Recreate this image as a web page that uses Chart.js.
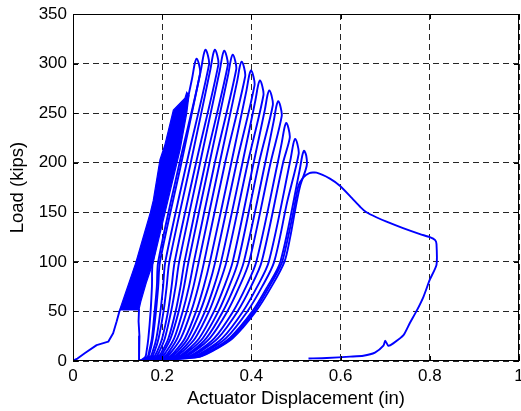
<!DOCTYPE html>
<html>
<head>
<meta charset="utf-8">
<script src="https://cdn.jsdelivr.net/npm/chart.js@4"></script>
<style>
html,body{margin:0;padding:0;background:#fff;}
canvas{display:block;}
</style>
</head>
<body>
<canvas id="c" width="521" height="411"></canvas>
<script>
// ---- data (x = displacement in, y = load kips) ----
const xTicks = [0, 0.2, 0.4, 0.6, 0.8, 1];
const yTicks = [0, 50, 100, 150, 200, 250, 300, 350];

const initialPath = [[0,0.5],[0.01,2.5],[0.027,8],[0.053,16],[0.068,18],[0.079,19.5],[0.09,28],[0.098,40],[0.104,50],[0.106,52],[0.148,52],[0.147,40],[0.149,25],[0.148,0]];

const densePoly = [[0.105,52],[0.148,52],[0.152,60],[0.165,80],[0.18,100],[0.24,213],[0.255,250],[0.26,268],[0.255,271],[0.251,265],[0.225,253],[0.206,218],[0.195,203],[0.18,162],[0.173,149],[0.14,98],[0.105,52]];

const loop1 = [[0.15,0],[0.162,4],[0.165,10],[0.169,23],[0.174,50],[0.177,75],[0.179,100],[0.227,200],[0.267,285],[0.273,300],[0.277,305],[0.282,300],[0.285,290],[0.239,200],[0.191,100],[0.188,75],[0.183,50],[0.177,23],[0.171,10],[0.167,4],[0.15,0]];
const loop2 = [[0.15,0],[0.168,4],[0.173,10],[0.179,23],[0.186,50],[0.191,75],[0.195,100],[0.243,200],[0.287,294],[0.293,309],[0.297,314],[0.302,309],[0.305,299],[0.255,200],[0.207,100],[0.202,75],[0.196,50],[0.187,23],[0.179,10],[0.173,4],[0.15,0]];
const loop3 = [[0.15,0],[0.176,4],[0.183,10],[0.192,23],[0.203,50],[0.21,75],[0.216,100],[0.264,200],[0.308,294],[0.314,309],[0.318,314],[0.323,309],[0.326,299],[0.276,200],[0.228,100],[0.221,75],[0.213,50],[0.2,23],[0.189,10],[0.181,4],[0.15,0]];
const loop4 = [[0.15,0],[0.185,4],[0.194,10],[0.206,23],[0.22,50],[0.23,75],[0.238,100],[0.285,200],[0.329,293],[0.335,308],[0.339,313],[0.344,308],[0.347,298],[0.297,200],[0.25,100],[0.241,75],[0.23,50],[0.214,23],[0.2,10],[0.19,4],[0.15,0]];
const loop5 = [[0.15,0],[0.193,4],[0.204,10],[0.219,23],[0.237,50],[0.249,75],[0.259,100],[0.306,200],[0.348,289],[0.354,304],[0.358,309],[0.363,304],[0.366,294],[0.318,200],[0.271,100],[0.26,75],[0.246,50],[0.227,23],[0.21,10],[0.198,4],[0.15,0]];
const loop6 = [[0.15,0],[0.203,4],[0.216,10],[0.234,23],[0.255,50],[0.27,75],[0.282,100],[0.329,200],[0.368,282],[0.374,297],[0.378,302],[0.383,297],[0.386,287],[0.341,200],[0.294,100],[0.281,75],[0.265,50],[0.242,23],[0.222,10],[0.208,4],[0.15,0]];
const loop7 = [[0.15,0],[0.213,4],[0.229,10],[0.251,23],[0.276,50],[0.293,75],[0.307,100],[0.355,200],[0.389,273],[0.395,288],[0.399,293],[0.404,288],[0.407,278],[0.367,200],[0.319,100],[0.304,75],[0.285,50],[0.258,23],[0.235,10],[0.218,4],[0.15,0]];
const loop8 = [[0.15,0],[0.223,4],[0.241,10],[0.266,23],[0.296,50],[0.316,75],[0.332,100],[0.38,200],[0.409,263],[0.415,278],[0.419,283],[0.424,278],[0.427,268],[0.392,200],[0.344,100],[0.326,75],[0.305,50],[0.274,23],[0.247,10],[0.228,4],[0.15,0]];
const loop9 = [[0.15,0],[0.233,4],[0.254,10],[0.283,23],[0.316,50],[0.339,75],[0.358,100],[0.405,200],[0.43,253],[0.436,268],[0.44,273],[0.445,268],[0.448,258],[0.417,200],[0.37,100],[0.35,75],[0.326,50],[0.291,23],[0.26,10],[0.238,4],[0.15,0]];
const loop10 = [[0.15,0],[0.243,4],[0.267,10],[0.299,23],[0.336,50],[0.362,75],[0.383,100],[0.431,200],[0.45,242],[0.456,257],[0.46,262],[0.465,257],[0.468,247],[0.443,200],[0.395,100],[0.373,75],[0.346,50],[0.307,23],[0.273,10],[0.248,4],[0.15,0]];
const loop11 = [[0.15,0],[0.255,4],[0.281,10],[0.317,23],[0.359,50],[0.388,75],[0.411,100],[0.459,200],[0.468,220],[0.474,235],[0.478,240],[0.483,235],[0.486,225],[0.471,200],[0.423,100],[0.399,75],[0.369,50],[0.325,23],[0.287,10],[0.259,4],[0.15,0]];
const loop12 = [[0.15,0],[0.266,4],[0.295,10],[0.335,23],[0.381,50],[0.413,75],[0.439,100],[0.488,204],[0.494,219],[0.498,224],[0.503,219],[0.506,209],[0.48,160],[0.451,100],[0.424,75],[0.391,50],[0.343,23],[0.301,10],[0.27,4],[0.15,0]];
const loop13 = [[0.15,0],[0.276,4],[0.307,10],[0.351,23],[0.402,50],[0.436,75],[0.465,100],[0.508,192],[0.514,207],[0.518,212],[0.523,207],[0.524,197],[0.509,176],[0.498,152],[0.487,125],[0.474,100],[0.445,75],[0.41,50],[0.358,23],[0.312,10],[0.28,4],[0.15,0]];

const finalPath = [[0.15,0],[0.278,4],[0.31,10],[0.355,23],[0.406,50],[0.44,75],[0.469,100],[0.494,150],[0.505,176],[0.516,185],[0.53,189.5],[0.546,190],[0.576,184],[0.599,176.5],[0.625,164.5],[0.645,155],[0.658,150],[0.68,145],[0.703,140.5],[0.74,134],[0.778,128],[0.80,125],[0.812,122],[0.815,118],[0.815,97],[0.80,82],[0.786,65],[0.771,51],[0.755,38],[0.741,26],[0.718,17.8],[0.707,15.4],[0.700,20.5],[0.696,15.4],[0.677,8.4],[0.651,5.3],[0.621,4.4],[0.569,3],[0.528,2.5]];

const loops = [loop1, loop2, loop3, loop4, loop5, loop6, loop7, loop8, loop9, loop10, loop11, loop12, loop13];

// ---- build chart ----
const BLUE = '#0000ff';
const toPts = arr => arr.map(p => ({x: p[0], y: p[1]}));
const lineDs = (arr, tension) => ({
  data: toPts(arr), showLine: true, borderColor: BLUE, borderWidth: 1.9,
  pointRadius: 0, tension: tension, fill: false, borderJoinStyle: 'round'
});

const datasets = [];
datasets.push({data: toPts(densePoly), showLine: true, borderColor: BLUE, backgroundColor: BLUE,
  borderWidth: 1.2, pointRadius: 0, tension: 0, fill: 'shape'});
datasets.push(lineDs(initialPath, 0));
loops.forEach(l => datasets.push(lineDs(l, 0.3)));
datasets.push(lineDs(finalPath, 0.2));

const FONT = 'Liberation Sans, Arial, Helvetica, sans-serif';
const FS = 17;
const FT = 18.5;

const boxPlugin = {
  id: 'matlabBox',
  afterDraw(chart) {
    const {ctx, chartArea: a, scales: {x, y}} = chart;
    ctx.save();
    ctx.setLineDash([]);
    ctx.strokeStyle = '#000';
    ctx.lineWidth = 1;
    ctx.strokeRect(a.left + 0.5, a.top + 0.5, a.right - a.left - 1, a.bottom - a.top - 1);
    const t = 5;
    ctx.beginPath();
    xTicks.forEach(v => {
      const px = Math.round(x.getPixelForValue(v)) + 0.5;
      ctx.moveTo(px, a.bottom); ctx.lineTo(px, a.bottom - t);
      ctx.moveTo(px, a.top); ctx.lineTo(px, a.top + t);
    });
    yTicks.forEach(v => {
      const py = Math.round(y.getPixelForValue(v)) + 0.5;
      ctx.moveTo(a.left, py); ctx.lineTo(a.left + t, py);
      ctx.moveTo(a.right, py); ctx.lineTo(a.right - t, py);
    });
    ctx.stroke();
    ctx.restore();
  }
};

new Chart(document.getElementById('c'), {
  type: 'scatter',
  data: {datasets},
  options: {
    responsive: false,
    animation: false,
    layout: {padding: {left: 0, top: 14, right: 2, bottom: 0}},
    plugins: {legend: {display: false}, tooltip: {enabled: false}},
    scales: {
      x: {
        type: 'linear', min: 0, max: 1,
        afterBuildTicks: s => { s.ticks = xTicks.map(v => ({value: v})); },
        afterFit: s => { s.height = 50; s.paddingLeft = 0; s.paddingRight = 0; },
        ticks: {color: '#000', font: {family: FONT, size: FS}, padding: 5, maxRotation: 0,
          callback: v => String(v)},
        grid: {color: 'rgba(0,0,0,0.85)', lineWidth: 1, drawTicks: false},
        border: {display: false, dash: [6, 4]},
        title: {display: true, text: 'Actuator Displacement (in)', color: '#000',
          font: {family: FONT, size: FT}, padding: {top: 0, bottom: 1}}
      },
      y: {
        type: 'linear', min: 0, max: 350,
        afterBuildTicks: s => { s.ticks = yTicks.map(v => ({value: v})); },
        afterFit: s => { s.width = 73; s.paddingTop = 0; s.paddingBottom = 0; },
        ticks: {color: '#000', font: {family: FONT, size: FS}, padding: 6,
          callback: v => String(v)},
        grid: {color: 'rgba(0,0,0,0.85)', lineWidth: 1, drawTicks: false},
        border: {display: false, dash: [6, 4]},
        title: {display: true, text: 'Load (kips)', color: '#000',
          font: {family: FONT, size: FT}, padding: {top: 7, bottom: 0}}
      }
    }
  },
  plugins: [boxPlugin]
});
</script>
</body>
</html>
